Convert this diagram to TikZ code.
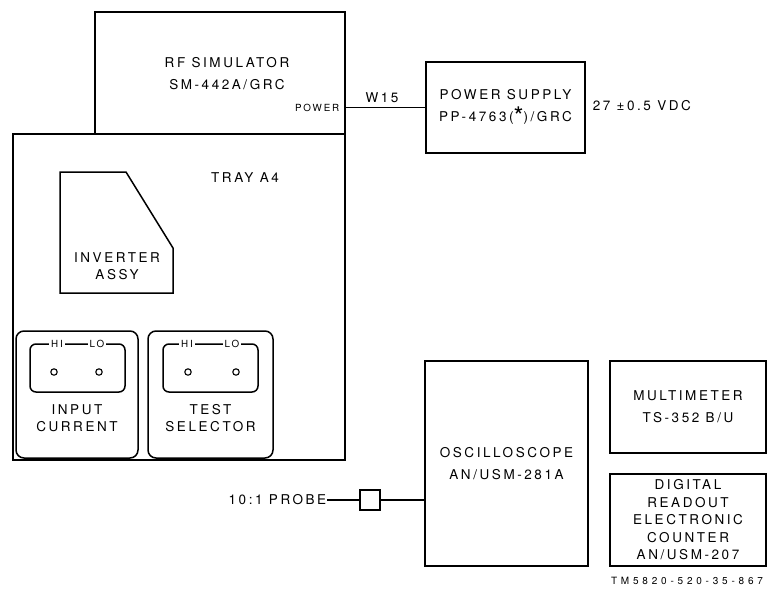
\documentclass[tikz,border=0pt]{standalone}
\usepackage{fontspec}
\usepackage{graphicx}
\setmainfont{TeX Gyre Heros}[LetterSpace=19]
\newfontfamily\tmfont{TeX Gyre Heros}[LetterSpace=38]
\begin{document}
\begin{tikzpicture}[x=1pt,y=-1pt,line width=1.5pt,
  box/.style n args={2}{draw,minimum width=#1,minimum height=#2,inner sep=0pt,align=center,font=\fontsize{13.5}{22}\selectfont},
  lbl/.style={inner sep=0pt,align=center,font=\fontsize{13.5}{17}\selectfont},
  small/.style={inner sep=0pt,font=\fontsize{9.8}{11}\selectfont}]
\useasboundingbox (0,0) rectangle (768,590);
% RF simulator and tray
\node[box={250pt}{122pt}] (rf) at (220,73) {};
\node[lbl,font=\fontsize{13.5}{22}\selectfont] (rflbl) at (227,74) {RF SIMULATOR\\SM-442A/GRC};
\node[box={332pt}{326pt}] (tray) at (179,297) {};
\node[lbl] (traylbl) at (245,178) {TRAY A4};
\node[small,anchor=east] (pwr) at (340,108) {POWER};
% inverter
\draw (60,172) -- (126,172) -- (173,248) -- (173,293) -- (60,293) -- cycle;
\node[lbl] (inv) at (117,266) {INVERTER\\ASSY};
% input current / test selector
\node[box={122pt}{127pt},rounded corners=8pt] (ic) at (77,394.5) {};
\node[box={125pt}{127pt},rounded corners=8pt] (ts) at (210.5,394.5) {};
\draw[rounded corners=6pt] (30,344) rectangle (125,392);
\draw[rounded corners=6pt] (163,344) rectangle (258,392);
\node[small,fill=white,inner xsep=2pt] (hi1) at (57,344) {HI};
\node[small,fill=white,inner xsep=2pt] (lo1) at (97,344) {LO};
\node[small,fill=white,inner xsep=2pt] (hi2) at (187,344) {HI};
\node[small,fill=white,inner xsep=2pt] (lo2) at (232,344) {LO};
\draw[line width=1.1pt] (54,372) circle (3.2pt) (99,372) circle (3.2pt);
\draw[line width=1.1pt] (188,372) circle (3.2pt) (236,372) circle (3.2pt);
\node[lbl] (iclbl) at (77,418) {INPUT\\CURRENT};
\node[lbl] (tslbl) at (210.5,418) {TEST\\SELECTOR};
% power supply
\node[box={159pt}{91pt}] (ps) at (505.5,107.5) {POWER SUPPLY\\PP-4763(\raisebox{-0.55ex}{\scalebox{1.9}{*}})/GRC};
\draw (ps.west -| rf.east) -- (ps.west);
\node[lbl] (w15) at (382,98) {W15};
\node[lbl,anchor=west] (vdc) at (592,106) {27 ±0.5 VDC};
% oscilloscope etc
\node[box={163pt}{205pt}] (osc) at (506.5,463.5) {OSCILLOSCOPE\\AN/USM-281A};
\node[box={156pt}{92pt}] (mm) at (688,407) {MULTIMETER\\TS-352 B/U};
\node[box={156pt}{92pt},font=\fontsize{13.5}{17.5}\selectfont] (dc) at (688,520) {DIGITAL\\READOUT\\ELECTRONIC\\COUNTER\\AN/USM-207};
\node[inner sep=0pt,font=\tmfont\fontsize{10}{12}\selectfont] (tm) at (687,581) {TM5820-520-35-867};
% probe
\node[draw,minimum size=20pt,inner sep=0pt] (sq) at (370,500) {};
\node[lbl,anchor=east] (probe) at (327,500) {10:1 PROBE};
\draw (probe.east) -- (sq.west);
\draw (sq.east) -- (sq.east -| osc.west);
\end{tikzpicture}
\end{document}
